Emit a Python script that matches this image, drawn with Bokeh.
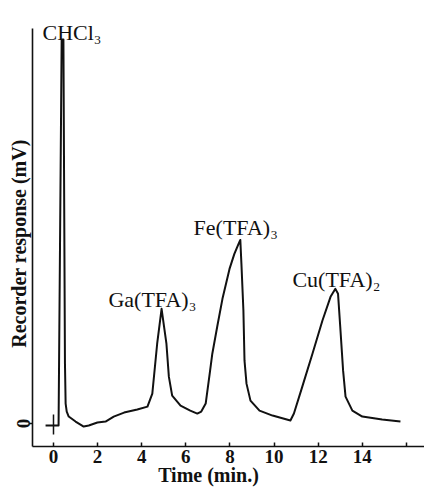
from bokeh.plotting import figure
from bokeh.models import Range1d, FixedTicker, ColumnDataSource
from bokeh.core.properties import value
from bokeh.embed import file_html
from bokeh.resources import INLINE

# ---- data ----
time_min = [-0.36, 0.23, 0.37, 0.45, 0.52, 0.55, 0.60, 0.69, 1.00, 1.37, 1.60,
            1.99, 2.36, 2.73, 3.20, 3.80, 4.26, 4.48, 4.70, 4.90, 5.12, 5.23,
            5.38, 5.76, 6.20, 6.52, 6.70, 6.90, 7.10, 7.20, 7.43, 7.66, 7.98,
            8.20, 8.39, 8.47, 8.52, 8.61, 8.66, 8.75, 8.93, 9.34, 9.93, 10.74,
            10.90, 11.28, 11.74, 12.19, 12.56, 12.78, 12.90, 13.00, 13.13,
            13.24, 13.55, 14.00, 14.90, 15.73]
response = [-2, -2, 385, 385, 60, 20, 12, 7, 2, -3, -2,
            1, 2, 7, 11, 14, 17, 30, 80, 115, 80, 47,
            28, 18, 13, 10, 12, 20, 53, 70, 98, 125, 155,
            170, 180, 184, 160, 113, 63, 40, 23, 13, 8, 3,
            10, 37, 70, 103, 127, 135, 130, 97, 53,
            27, 13, 7, 4, 2]

# injection marker (start of run)
inject_t = [0.0]
inject_y0 = [-11]
inject_y1 = [9]

peak_names = ["CHCl\u2083", "Ga(TFA)\u2083", "Fe(TFA)\u2083", "Cu(TFA)\u2082"]
x_ticks = [0, 2, 4, 6, 8, 10, 12, 14, 16]
x_tick_labels = ["0", "2", "4", "6", "8", "10", "12", "14", ""]
y_ticks = [0]
x_title = "Time (min.)"
y_title = "Recorder response (mV)"

INK = "#111111"
SERIF = "Liberation Serif"
NBSP = "\u00a0"

p = figure(width=424, height=488,
           x_range=Range1d(-0.952, 16.82), y_range=Range1d(-23, 424),
           output_backend="svg", toolbar_location=None,
           min_border_left=32, min_border_right=0,
           min_border_top=0, min_border_bottom=41)
p.outline_line_color = None
p.xgrid.visible = False
p.ygrid.visible = False
p.background_fill_color = "white"
p.border_fill_color = "white"

p.line(time_min, response, line_color=INK, line_width=2.0, line_join="round")
p.segment(x0=inject_t, y0=inject_y0, x1=inject_t, y1=inject_y1,
          line_color=INK, line_width=1.5)

# peak labels
lab_x = [-0.50, 2.49, 6.35, 10.83]
lab_y = [392, 124, 196, 144]
src = ColumnDataSource(dict(x=lab_x, y=lab_y, t=peak_names))
p.text(x="x", y="y", text="t", source=src, text_font=value(SERIF),
       text_font_size="22px", text_color=INK, text_align="left",
       text_baseline="alphabetic")

# x axis
xa = p.xaxis[0]
xa.ticker = FixedTicker(ticks=x_ticks)
xa.major_label_overrides = {t: l for t, l in zip(x_ticks, x_tick_labels)}
xa.minor_tick_line_color = None
xa.major_tick_in = 4
xa.major_tick_out = 0
xa.major_label_standoff = 3
xa.axis_line_width = 1.6
xa.axis_line_color = INK
xa.major_tick_line_color = INK
xa.major_tick_line_width = 1.5
xa.major_label_text_font = SERIF
xa.major_label_text_font_style = "bold"
xa.major_label_text_font_size = "19px"
xa.major_label_text_color = INK
xa.axis_label = x_title + NBSP * 8
xa.axis_label_standoff = -2
xa.axis_label_text_font = SERIF
xa.axis_label_text_font_style = "bold"
xa.axis_label_text_font_size = "20px"
xa.axis_label_text_color = INK

# y axis
ya = p.yaxis[0]
ya.ticker = FixedTicker(ticks=y_ticks)
ya.bounds = (-23, 396)
ya.minor_tick_line_color = None
ya.major_tick_in = 0
ya.major_tick_out = 4
ya.major_label_standoff = -2
ya.major_label_orientation = "vertical"
ya.axis_line_width = 1.6
ya.axis_line_color = INK
ya.major_tick_line_color = INK
ya.major_tick_line_width = 1.5
ya.major_label_text_font = SERIF
ya.major_label_text_font_style = "bold"
ya.major_label_text_font_size = "19px"
ya.major_label_text_color = INK
ya.axis_label = y_title + NBSP * 8
ya.axis_label_standoff = -15
ya.axis_label_text_font = SERIF
ya.axis_label_text_font_style = "bold"
ya.axis_label_text_font_size = "20px"
ya.axis_label_text_color = INK

open("out.html", "w").write(file_html(p, INLINE))
